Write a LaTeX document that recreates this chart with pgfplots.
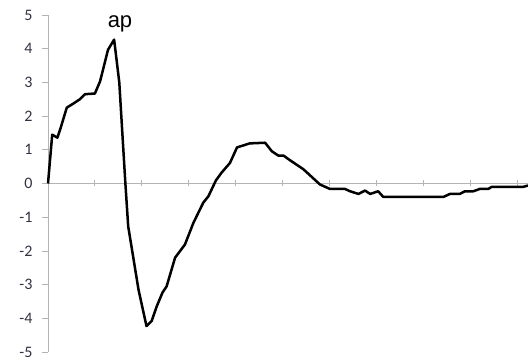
\documentclass[border=0pt]{standalone}
\usepackage{pgfplots}
\pgfplotsset{compat=1.18}
\usepackage{fontspec}
\setmainfont{Carlito}
\newfontfamily\arialfont{Liberation Sans}
\definecolor{ticktext}{RGB}{50,50,65}
\definecolor{axisgray}{RGB}{180,180,180}
\begin{document}
\begin{tikzpicture}
\begin{axis}[
  scale only axis, width=480pt, height=337pt,
  xmin=0, xmax=102.35, ymin=-5, ymax=5,
  axis y line=left, axis x line=middle,
  axis line style={axisgray, line width=0.8pt, -},
  xtick={0,10,...,100}, xticklabels={},
  ytick={-5,-4,...,5},
  yticklabel={\fontsize{16}{16}\selectfont\color{ticktext}\pgfmathprintnumber[assume math mode=true]{\tick}\hspace*{9pt}},
  tick align=center, major tick length=6pt,
  xtick style={axisgray, line width=0.8pt},
  ytick style={axisgray, line width=0.8pt, xshift=-3pt},
  clip=false,
]
\addplot[black, line width=2.5pt, line join=round] coordinates {
(0,0) (0.9,1.45) (2.0,1.36) (2.7,1.65) (4.0,2.25) (5.5,2.38) (6.8,2.5) (7.9,2.65)
(10,2.67) (11.1,3.03) (12.8,3.97) (14.1,4.27) (15.2,3.0) (16.5,0) (17.1,-1.27)
(19.3,-3.15) (21.0,-4.23) (22.1,-4.08) (23.2,-3.64) (24.4,-3.24) (25.3,-3.05)
(27.1,-2.2) (29.2,-1.81) (31.0,-1.17) (33.1,-0.57) (34.2,-0.38) (35.8,0.09)
(37.0,0.32) (38.8,0.61) (40.3,1.07) (43,1.19) (46.3,1.21) (47.7,0.96)
(49.1,0.83) (50.2,0.83) (51.6,0.69) (53.0,0.56) (54.4,0.43) (56.2,0.2)
(58.0,-0.03) (60.1,-0.16) (63.3,-0.16) (64.4,-0.23) (66.2,-0.31) (67.6,-0.21)
(68.7,-0.31) (70.4,-0.23) (71.5,-0.4) (84.3,-0.4) (85.7,-0.31) (87.8,-0.31)
(88.9,-0.23) (90.7,-0.23) (92.1,-0.16) (93.9,-0.16) (94.6,-0.1) (101.3,-0.1)
(102.35,-0.06)
};
\node[font=\arialfont\fontsize{22}{22}\selectfont, text=black, inner sep=0pt] at (axis cs:15.35,4.75) {ap};
\end{axis}
\pgfresetboundingbox
\path[use as bounding box] ([shift={(-48pt,-8pt)}]current axis.south west) rectangle ([shift={(0pt,15pt)}]current axis.north east);
\end{tikzpicture}
\end{document}
